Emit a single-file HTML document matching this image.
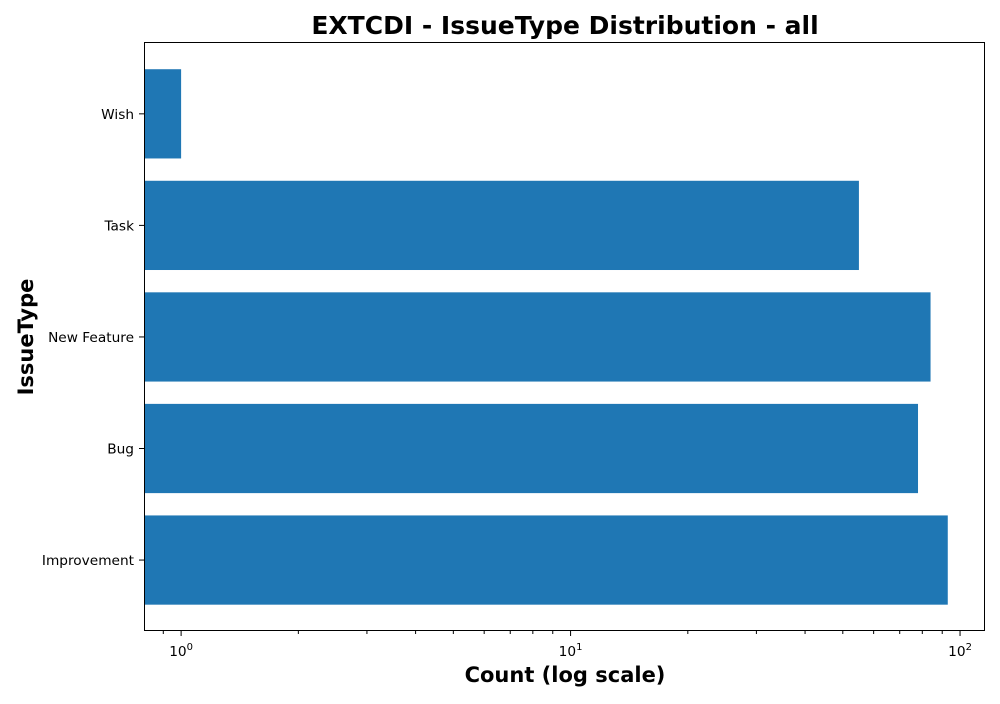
<!DOCTYPE html>
<html><head><meta charset="utf-8"><style>
body{margin:0;background:#fff;font-family:"DejaVu Sans","Liberation Sans",sans-serif}
</style></head><body>
<svg id="chart" width="1000" height="700" xmlns="http://www.w3.org/2000/svg" font-family="DejaVu Sans, Liberation Sans, sans-serif">
<text x="565" y="34" text-anchor="middle" font-size="25" font-weight="bold">EXTCDI - IssueType Distribution - all</text>
<text x="565" y="682" text-anchor="middle" font-size="21" font-weight="bold">Count (log scale)</text>
<text transform="translate(33,337) rotate(-90)" text-anchor="middle" font-size="21" font-weight="bold">IssueType</text>
<g id="bars"></g><g id="ticks"></g>
<rect x="144.5" y="42.5" width="840" height="588" fill="none" stroke="#000" stroke-width="1"/>
</svg>
<script>
const categories = ["Improvement","Bug","New Feature","Task","Wish"];
const counts = [93, 78, 84, 55, 1];
const majorTicks = [1, 10, 100];
const majorTickLabels = ["0","1","2"];
const L=144,R=985,T=42,B=631, xmin=0.803, xmax=115.9;
const ns="http://www.w3.org/2000/svg";
function x(v){return L+(Math.log10(v)-Math.log10(xmin))/(Math.log10(xmax)-Math.log10(xmin))*(R-L);}
const ymin=-0.636, ymax=4.644;
function y(i){return B-(i-ymin)/(ymax-ymin)*(B-T);}
const bars=document.getElementById('bars'), ticks=document.getElementById('ticks');
function el(t,a,p){const e=document.createElementNS(ns,t);for(const k in a)e.setAttribute(k,a[k]);p.appendChild(e);return e;}
const bw=(y(0)-y(0.8));
categories.forEach((c,i)=>{
  const cy=y(i);
  const r=el('rect',{x:L,y:cy-bw/2,width:x(counts[i])-L,height:bw,fill:'#1f77b4'},bars);
  
  
  el('line',{x1:L-5,x2:L,y1:cy,y2:cy,stroke:'#000'},ticks);
  const t=el('text',{x:L-10,y:cy+5,'text-anchor':'end','font-size':13.7},ticks);
  t.textContent=c;
  
  
});
for(let d=-1;d<=2;d++)for(let m=1;m<10;m++){const v=m*Math.pow(10,d);if(v<xmin||v>xmax)continue;
  const px=x(v);el('line',{x1:px,x2:px,y1:B,y2:B+(m==1?5:3),stroke:'#000'},ticks);}
majorTicks.forEach((v,i)=>{
  const t=el('text',{x:x(v),y:B+25,'text-anchor':'middle','font-size':13.7},ticks);
  t.innerHTML='10<tspan dy="-6" font-size="10">'+majorTickLabels[i]+'</tspan>';
  
  
});
</script>
</body></html>
